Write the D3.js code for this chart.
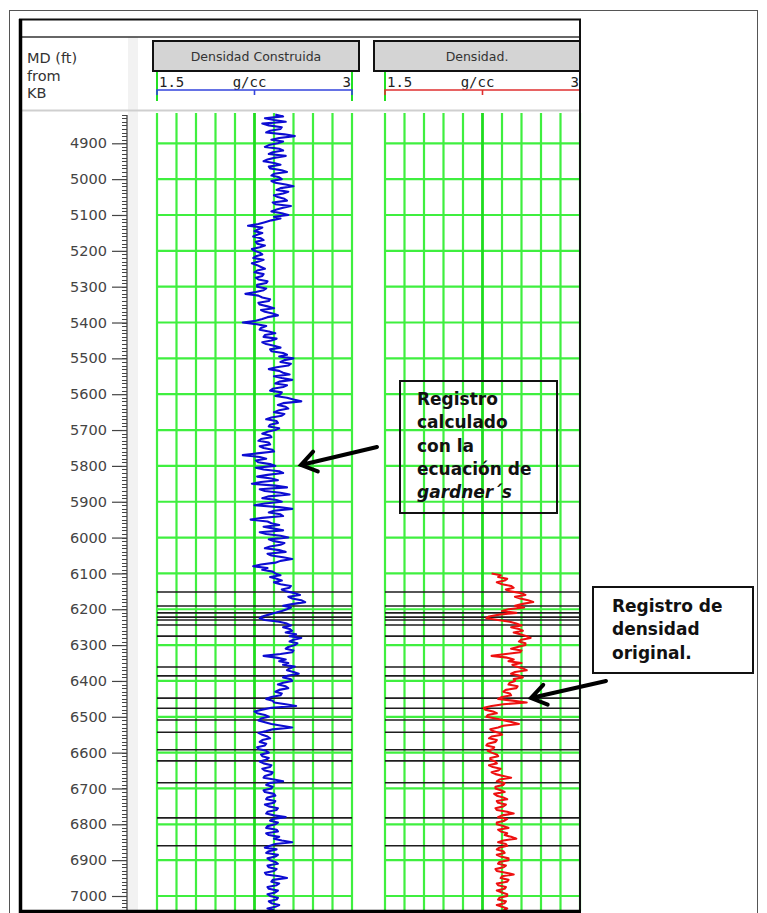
<!DOCTYPE html>
<html>
<head>
<meta charset="utf-8">
<script src="https://cdn.jsdelivr.net/npm/d3@7"></script>
<style>
  body { margin: 0; background: #fff; }
  svg { display: block; }
</style>
</head>
<body>
<div id="chart"></div>
<script>
// depth sampling of both curves (ft, every 5 ft)
const blueTop = 4820;
const redTop = 6100;
const sampleStep = 5;

// Densidad Construida (g/cc), 4820 .. 7040 ft
const densidadConstruida = [
  2.41, 2.47, 2.33, 2.40, 2.49, 2.31, 2.36, 2.46, 2.45, 2.37, 2.34, 2.48, 2.56, 2.44, 2.38, 2.47,
  2.43, 2.36, 2.33, 2.44, 2.47, 2.39, 2.36, 2.49, 2.41, 2.35, 2.32, 2.40, 2.45, 2.36, 2.37, 2.46, 2.50, 2.40, 2.38, 2.44,
  2.46, 2.38, 2.41, 2.49, 2.55, 2.45, 2.42, 2.51, 2.47, 2.40, 2.43, 2.48, 2.50, 2.39, 2.41, 2.53, 2.47, 2.42, 2.38, 2.46,
  2.51, 2.40, 2.45, 2.38, 2.33, 2.28, 2.20, 2.31, 2.28, 2.25, 2.31, 2.27, 2.24, 2.30, 2.32, 2.26, 2.27, 2.33, 2.29, 2.23,
  2.25, 2.29, 2.31, 2.26, 2.24, 2.32, 2.28, 2.23, 2.27, 2.30, 2.33, 2.27, 2.25, 2.32, 2.31, 2.26, 2.28, 2.35, 2.34, 2.27,
  2.27, 2.34, 2.32, 2.26, 2.18, 2.28, 2.31, 2.37, 2.36, 2.28, 2.29, 2.35, 2.40, 2.30, 2.33, 2.39, 2.43, 2.35, 2.31, 2.26,
  2.16, 2.27, 2.34, 2.30, 2.29, 2.36, 2.41, 2.33, 2.32, 2.42, 2.38, 2.31, 2.34, 2.40, 2.45, 2.37, 2.38, 2.47, 2.50, 2.44,
  2.55, 2.48, 2.45, 2.53, 2.51, 2.42, 2.36, 2.44, 2.47, 2.52, 2.40, 2.46, 2.54, 2.44, 2.41, 2.50, 2.47, 2.39, 2.37, 2.46,
  2.45, 2.41, 2.50, 2.55, 2.61, 2.47, 2.43, 2.49, 2.51, 2.44, 2.40, 2.48, 2.46, 2.38, 2.34, 2.42, 2.43, 2.37, 2.36, 2.44,
  2.41, 2.35, 2.31, 2.37, 2.38, 2.30, 2.28, 2.36, 2.37, 2.29, 2.32, 2.39, 2.40, 2.27, 2.16, 2.29, 2.34, 2.26, 2.28, 2.37,
  2.41, 2.26, 2.32, 2.44, 2.47, 2.35, 2.27, 2.38, 2.43, 2.30, 2.23, 2.41, 2.50, 2.29, 2.33, 2.45, 2.52, 2.36, 2.31, 2.42,
  2.46, 2.33, 2.25, 2.44, 2.54, 2.40, 2.36, 2.45, 2.47, 2.31, 2.22, 2.35, 2.38, 2.44, 2.32, 2.40, 2.47, 2.29, 2.34, 2.45,
  2.51, 2.36, 2.40, 2.48, 2.45, 2.37, 2.33, 2.44, 2.49, 2.35, 2.38, 2.47, 2.54, 2.45, 2.41, 2.30, 2.24, 2.35, 2.31, 2.39,
  2.41, 2.45, 2.37, 2.42, 2.46, 2.40, 2.45, 2.53, 2.52, 2.46, 2.49, 2.56, 2.60, 2.51, 2.54, 2.61, 2.64, 2.55, 2.47, 2.53,
  2.50, 2.46, 2.41, 2.36, 2.31, 2.29, 2.33, 2.44, 2.50, 2.53, 2.47, 2.52, 2.54, 2.49, 2.57, 2.52, 2.61, 2.55, 2.52, 2.58,
  2.56, 2.51, 2.49, 2.55, 2.54, 2.45, 2.32, 2.42, 2.49, 2.44, 2.51, 2.47, 2.56, 2.52, 2.50, 2.55, 2.59, 2.51, 2.47, 2.53,
  2.54, 2.47, 2.43, 2.49, 2.51, 2.44, 2.41, 2.46, 2.45, 2.38, 2.34, 2.39, 2.40, 2.49, 2.57, 2.38, 2.31, 2.25, 2.27, 2.33,
  2.36, 2.30, 2.28, 2.33, 2.38, 2.46, 2.54, 2.39, 2.34, 2.28, 2.31, 2.35, 2.37, 2.31, 2.29, 2.34, 2.33, 2.27, 2.28, 2.34,
  2.36, 2.30, 2.31, 2.36, 2.34, 2.29, 2.32, 2.38, 2.37, 2.31, 2.33, 2.39, 2.38, 2.33, 2.32, 2.40, 2.47, 2.36, 2.34, 2.39,
  2.38, 2.32, 2.33, 2.40, 2.41, 2.35, 2.34, 2.41, 2.40, 2.33, 2.36, 2.43, 2.42, 2.35, 2.34, 2.40, 2.49, 2.39, 2.37, 2.43,
  2.41, 2.35, 2.34, 2.42, 2.43, 2.34, 2.36, 2.44, 2.40, 2.46, 2.54, 2.41, 2.37, 2.33, 2.42, 2.36, 2.34, 2.43, 2.41, 2.35,
  2.37, 2.41, 2.43, 2.35, 2.36, 2.42, 2.40, 2.33, 2.34, 2.44, 2.50, 2.39, 2.38, 2.44, 2.42, 2.35, 2.36, 2.43, 2.41, 2.35,
  2.37, 2.43, 2.42, 2.36, 2.38, 2.44, 2.41, 2.35, 2.40,
];

// Densidad original (g/cc), 6100 .. 7040 ft
const densidadOriginal = [
  2.32, 2.39, 2.37, 2.44, 2.42, 2.36, 2.40, 2.47, 2.49, 2.43, 2.46, 2.55, 2.58, 2.50, 2.54, 2.60, 2.64, 2.56, 2.50, 2.57,
  2.45, 2.40, 2.51, 2.38, 2.30, 2.28, 2.37, 2.46, 2.51, 2.55, 2.47, 2.53, 2.56, 2.49, 2.54, 2.59, 2.62, 2.55, 2.53, 2.58,
  2.58, 2.52, 2.47, 2.55, 2.54, 2.43, 2.32, 2.44, 2.49, 2.45, 2.55, 2.48, 2.51, 2.56, 2.59, 2.50, 2.47, 2.53, 2.56, 2.49,
  2.50, 2.46, 2.45, 2.52, 2.51, 2.43, 2.41, 2.46, 2.47, 2.40, 2.37, 2.48, 2.59, 2.41, 2.32, 2.26, 2.27, 2.33, 2.36, 2.29,
  2.28, 2.35, 2.42, 2.48, 2.53, 2.41, 2.37, 2.31, 2.33, 2.38, 2.40, 2.32, 2.30, 2.36, 2.35, 2.29, 2.28, 2.34, 2.33, 2.29,
  2.32, 2.36, 2.37, 2.31, 2.31, 2.35, 2.36, 2.30, 2.33, 2.39, 2.37, 2.32, 2.35, 2.41, 2.47, 2.38, 2.36, 2.42, 2.41, 2.35,
  2.35, 2.39, 2.42, 2.34, 2.36, 2.41, 2.44, 2.36, 2.37, 2.43, 2.41, 2.35, 2.36, 2.44, 2.49, 2.40, 2.37, 2.44, 2.42, 2.36,
  2.36, 2.41, 2.45, 2.37, 2.39, 2.44, 2.42, 2.47, 2.51, 2.41, 2.37, 2.43, 2.44, 2.38, 2.36, 2.41, 2.42, 2.36, 2.39, 2.45,
  2.45, 2.38, 2.37, 2.43, 2.41, 2.35, 2.36, 2.43, 2.49, 2.40, 2.39, 2.45, 2.44, 2.36, 2.37, 2.43, 2.42, 2.36, 2.40, 2.44,
  2.44, 2.38, 2.37, 2.43, 2.42, 2.36, 2.40, 2.44, 2.41,
];

// formation marker depths (ft)
const markerDepths = [6152, 6191, 6210, 6222, 6230, 6244, 6275, 6361, 6386,
  6448, 6476, 6509, 6543, 6592, 6623, 6684, 6782, 6860];

const depthLabels = [4900, 5000, 5100, 5200, 5300, 5400, 5500, 5600, 5700,
  5800, 5900, 6000, 6100, 6200, 6300, 6400, 6500, 6600, 6700, 6800, 6900, 7000];

const densityGrid = [1.5, 1.65, 1.8, 1.95, 2.1, 2.25, 2.4, 2.55, 2.7, 2.85, 3.0];

const tracks = [
  {title: 'Densidad Construida', values: densidadConstruida, top: blueTop,
    color: '#0c0cd2', scaleColor: '#3344dd', x0: 157, box: 153},
  {title: 'Densidad.', values: densidadOriginal, top: redTop,
    color: '#ee1010', scaleColor: '#e03030', x0: 385, box: 374},
];

const W = 767;
const H = 913;
const trackW = 195;
const bodyTop = 113;
const bodyBottom = 911;

const svg = d3.select('#chart').append('svg')
    .attr('width', W)
    .attr('height', H)
    .style('font-family', 'DejaVu Sans, sans-serif');

const y = d3.scaleLinear().domain([4900, 7000]).range([143.3, 896]);

svg.append('defs').append('clipPath')
    .attr('id', 'body-clip')
  .append('rect')
    .attr('x', 0).attr('y', bodyTop)
    .attr('width', W).attr('height', bodyBottom - bodyTop);

// outer frame and background strip
svg.append('rect')
    .attr('x', 9.5).attr('y', 10.5)
    .attr('width', 748).attr('height', 906)
    .attr('fill', 'none')
    .attr('stroke', '#555')
    .attr('stroke-width', 1);

svg.append('rect')
    .attr('x', 128).attr('y', 37)
    .attr('width', 10).attr('height', bodyBottom - 37)
    .attr('fill', '#f2f2f2');

svg.append('line')
    .attr('x1', 20).attr('x2', 580)
    .attr('y1', 37).attr('y2', 37)
    .attr('stroke', '#333').attr('stroke-width', 1.5);

svg.append('line')
    .attr('x1', 20).attr('x2', 580)
    .attr('y1', 110.5).attr('y2', 110.5)
    .attr('stroke', '#cfcfcf').attr('stroke-width', 2);

// depth label
svg.append('text')
    .attr('fill', '#333')
    .style('font-size', '14.5px')
    .selectAll('tspan')
    .data(['MD (ft)', 'from', 'KB'])
    .join('tspan')
      .attr('x', 27)
      .attr('y', function(d, i) {
        return 63 + i * 17.5;
      })
      .text(function(d) {
        return d;
      });

// depth axis
const axisX = 127;
const yAxis = d3.axisLeft(y)
    .tickValues(depthLabels)
    .tickSize(15)
    .tickPadding(5)
    .tickFormat(d3.format('d'));

const gAxis = svg.append('g')
    .attr('clip-path', 'url(#body-clip)')
  .append('g')
    .attr('transform', 'translate(' + axisX + ',0)');

const minor = [];
for (let d = 4820; d <= 7040; d += 10) {
  minor.push(d);
}
gAxis.selectAll('line.minor')
  .data(minor)
  .join('line')
    .attr('class', 'minor')
    .attr('x1', -5).attr('x2', 0)
    .attr('y1', function(d) {
      return Math.round(y(d)) + 0.5;
    })
    .attr('y2', function(d) {
      return Math.round(y(d)) + 0.5;
    })
    .attr('stroke', '#444')
    .attr('stroke-width', 1);

gAxis.append('g').call(yAxis)
    .call(function(g) {
      g.select('.domain').remove();
      g.selectAll('.tick line').attr('stroke', '#444').attr('stroke-width', 1.2);
      g.selectAll('.tick text')
          .attr('fill', '#444')
          .style('font-size', '14.5px')
          .style('font-family', 'DejaVu Sans, sans-serif');
    });

gAxis.append('line')
    .attr('x1', 0).attr('x2', 0)
    .attr('y1', bodyTop + 2).attr('y2', bodyBottom)
    .attr('stroke', '#444').attr('stroke-width', 1.3);

// tracks
tracks.forEach(function(t) {
  const x = d3.scaleLinear().domain([1.5, 3]).range([t.x0, t.x0 + trackW]);

  // header box
  svg.append('rect')
      .attr('x', t.box).attr('y', 41)
      .attr('width', 206).attr('height', 30)
      .attr('fill', '#d4d4d4')
      .attr('stroke', '#111')
      .attr('stroke-width', 2);

  svg.append('text')
      .attr('x', t.box + 103).attr('y', 60.5)
      .attr('text-anchor', 'middle')
      .attr('fill', '#333')
      .style('font-size', '12.5px')
      .text(t.title);

  // scale row
  const sc = svg.append('g')
      .attr('fill', '#222')
      .style('font-family', 'DejaVu Sans Mono, monospace')
      .style('font-size', '14px');
  sc.append('text').attr('x', t.x0 + 2).attr('y', 87).text('1.5');
  sc.append('text').attr('x', t.x0 + trackW / 2 - 5).attr('y', 87)
      .attr('text-anchor', 'middle').text('g/cc');
  sc.append('text').attr('x', t.x0 + trackW - 1).attr('y', 87)
      .attr('text-anchor', 'end').text('3');

  [t.x0, t.x0 + trackW].forEach(function(px) {
    svg.append('line')
        .attr('x1', px).attr('x2', px)
        .attr('y1', 72).attr('y2', 101)
        .attr('stroke', '#22e022').attr('stroke-width', 2);
  });

  svg.append('path')
      .attr('d', 'M' + x(1.5) + ',95V90H' + x(3) + 'V95M' + x(2.25) + ',90V95')
      .attr('fill', 'none')
      .attr('stroke', t.scaleColor)
      .attr('stroke-width', 1.6);

  const body = svg.append('g').attr('clip-path', 'url(#body-clip)');

  // grid
  body.selectAll('line.hgrid')
    .data(depthLabels)
    .join('line')
      .attr('x1', x(1.5)).attr('x2', x(3))
      .attr('y1', function(d) {
        return y(d);
      })
      .attr('y2', function(d) {
        return y(d);
      })
      .attr('stroke', '#3fef3f')
      .attr('stroke-width', 2.2);

  body.selectAll('line.vgrid')
    .data(densityGrid)
    .join('line')
      .attr('x1', function(d) {
        return x(d);
      })
      .attr('x2', function(d) {
        return x(d);
      })
      .attr('y1', bodyTop).attr('y2', bodyBottom)
      .attr('stroke', function(d) {
        return d === 2.25 ? '#1fdc1f' : '#3fef3f';
      })
      .attr('stroke-width', function(d) {
        return d === 2.25 ? 2.8 : 2.2;
      });

  // formation markers
  body.selectAll('line.marker')
    .data(markerDepths)
    .join('line')
      .attr('x1', x(1.5)).attr('x2', x(3))
      .attr('y1', function(d) {
        return y(d);
      })
      .attr('y2', function(d) {
        return y(d);
      })
      .attr('stroke', '#1e1e1e')
      .attr('stroke-width', 1.6);

  // log curve
  const line = d3.line()
      .x(function(d) {
        return x(d);
      })
      .y(function(d, i) {
        return y(t.top + i * sampleStep);
      });

  body.append('path')
      .attr('d', line(t.values))
      .attr('fill', 'none')
      .attr('stroke', t.color)
      .attr('stroke-width', 2.1)
      .attr('stroke-linejoin', 'round');
});

// inner frame
svg.append('path')
    .attr('d', 'M20,911V19.5H580V911')
    .attr('fill', 'none')
    .attr('stroke', '#111')
    .attr('stroke-width', 2);
svg.append('line')
    .attr('x1', 20.5).attr('x2', 20.5)
    .attr('y1', 19).attr('y2', 913)
    .attr('stroke', '#000').attr('stroke-width', 3.5);
svg.append('line')
    .attr('x1', 19).attr('x2', 581)
    .attr('y1', 911.5).attr('y2', 911.5)
    .attr('stroke', '#000').attr('stroke-width', 3.5);

// annotations
function arrow(x1, y1, x2, y2) {
  const a = Math.atan2(y1 - y2, x1 - x2);
  const len = 18;
  const spread = 0.6;
  svg.append('path')
      .attr('d', 'M' + x1 + ',' + y1 + 'L' + x2 + ',' + y2 +
        'M' + (x2 + len * Math.cos(a + spread)) + ',' + (y2 + len * Math.sin(a + spread)) +
        'L' + x2 + ',' + y2 +
        'L' + (x2 + len * Math.cos(a - spread)) + ',' + (y2 + len * Math.sin(a - spread)))
      .attr('fill', 'none')
      .attr('stroke', '#000')
      .attr('stroke-width', 4)
      .attr('stroke-linejoin', 'miter')
      .attr('stroke-linecap', 'round');
}

function note(bx, by, bw, bh, lines, tx, ty, fill) {
  svg.append('rect')
      .attr('x', bx).attr('y', by)
      .attr('width', bw).attr('height', bh)
      .attr('fill', fill)
      .attr('stroke', '#111')
      .attr('stroke-width', 2);
  svg.append('text')
      .attr('fill', '#111')
      .style('font-weight', 'bold')
      .style('font-size', '17px')
      .selectAll('tspan')
      .data(lines)
      .join('tspan')
        .attr('x', tx)
        .attr('y', function(d, i) {
          return ty + i * 23.3;
        })
        .style('font-style', function(d) {
          return d === 'gardner´s' ? 'italic' : null;
        })
        .text(function(d) {
          return d;
        });
}

note(400, 381, 157, 132,
    ['Registro', 'calculado', 'con la', 'ecuación de', 'gardner´s'], 417, 405, 'none');
arrow(377, 447, 301, 465);

note(593, 587, 160, 86,
    ['Registro de', 'densidad', 'original.'], 612, 612, '#fff');
arrow(606, 681, 531, 698);
</script>
</body>
</html>
